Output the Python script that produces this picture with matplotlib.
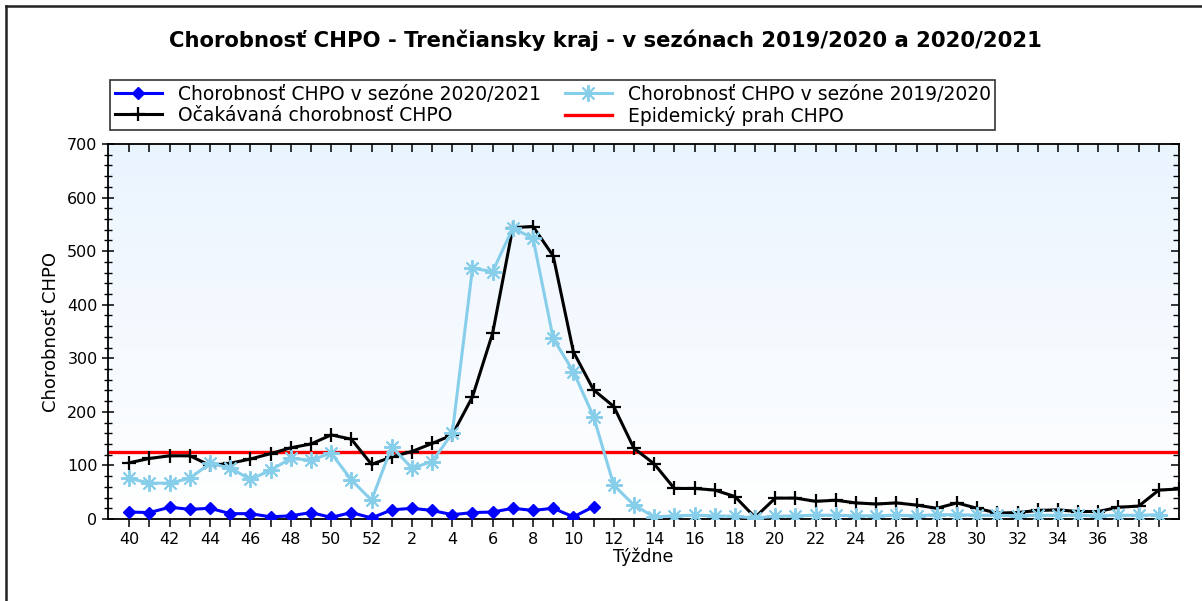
import matplotlib
matplotlib.use("Agg")
import matplotlib.pyplot as plt
import numpy as np
from matplotlib.lines import Line2D
from matplotlib.ticker import MultipleLocator, FixedLocator

# ---- data ----
weeks = [40, 41, 42, 43, 44, 45, 46, 47, 48, 49, 50, 51, 52,
         1, 2, 3, 4, 5, 6, 7, 8, 9, 10, 11, 12, 13, 14, 15, 16, 17, 18, 19,
         20, 21, 22, 23, 24, 25, 26, 27, 28, 29, 30, 31, 32, 33, 34, 35, 36, 37, 38, 39]

season_2020_2021 = [13, 12, 22, 18, 20, 10, 10, 4, 6, 12, 3, 12, 2,
                    17, 20, 16, 8, 12, 13, 20, 16, 20, 4, 23]

season_2019_2020 = [76, 67, 67, 76, 104, 95, 74, 91, 113, 110, 123, 73, 35,
                    135, 95, 107, 160, 468, 462, 543, 524, 337, 275, 191, 63, 26, 4,
                    6, 7, 6, 5, 2, 5, 6, 7, 7, 6, 6, 7, 6, 8, 8, 7, 7, 6, 7, 7, 7, 6, 7, 7, 8]

expected = [105, 113, 118, 118, 100, 104, 112, 122, 133, 140, 157, 149, 102,
            116, 126, 141, 157, 228, 347, 544, 546, 491, 312, 241, 210, 132, 103,
            57, 57, 54, 42, 3, 39, 39, 33, 35, 30, 28, 30, 26, 20, 30, 20, 11, 12,
            16, 17, 14, 14, 22, 24, 54, 56]

threshold = 126

title = "Chorobnosť CHPO - Trenčiansky kraj - v sezónach 2019/2020 a 2020/2021"
lab_2021 = "Chorobnosť CHPO v sezóne 2020/2021"
lab_2020 = "Chorobnosť CHPO v sezóne 2019/2020"
lab_exp = "Očakávaná chorobnosť CHPO"
lab_thr = "Epidemický prah CHPO"
ylabel = "Chorobnosť CHPO"
xlabel = "Týždne"

# ---- figure ----
W, H = 1202, 601
fig = plt.figure(figsize=(W / 100, H / 100), dpi=100)
fig.patch.set_facecolor("white")

left, right, top, bottom = 108, 1179, 144, 519
ax = fig.add_axes([left / W, 1 - bottom / H, (right - left) / W, (bottom - top) / H])

# gradient background
grad = np.linspace(0, 1, 256).reshape(-1, 1)
top_col = np.array([0.918, 0.957, 0.996])
bot_col = np.array([1.0, 1.0, 1.0])
img = bot_col[None, None, :] * (1 - grad[:, :, None]) + top_col[None, None, :] * grad[:, :, None]
ax.imshow(img, extent=[0, 1, 0, 1], transform=ax.transAxes, aspect="auto",
          origin="lower", zorder=0)

x_main = np.arange(len(weeks))
x_2021 = np.arange(len(season_2020_2021))
x_exp = np.arange(len(expected))

ax.axhline(threshold, color="#ff0000", lw=2.4, zorder=2)
ax.plot(x_exp, expected, color="black", lw=2.2, marker="+", ms=10, mew=1.6, zorder=3)
ax.plot(x_main, season_2019_2020, color="#87ceeb", lw=2.2, marker=(8, 2, 0), ms=12,
        mew=1.4, zorder=4)
ax.plot(x_2021, season_2020_2021, color="#0000ff", lw=2.2, marker="D", ms=6.5,
        zorder=5)

ax.set_xlim(-1.055, 52.0)
ax.set_ylim(0, 700)

# ticks
ax.xaxis.set_major_locator(FixedLocator(x_main))
ax.set_xticklabels([str(w) if i % 2 == 0 else "" for i, w in enumerate(weeks)])
ax.yaxis.set_major_locator(MultipleLocator(100))
ax.yaxis.set_minor_locator(MultipleLocator(20))
ax.tick_params(axis="x", which="major", direction="out", length=6, width=1.1,
               labelsize=11.5, pad=3, top=True)
ax.tick_params(axis="y", which="major", direction="inout", length=9, width=1.1,
               labelsize=11.5, pad=3, right=True)
ax.tick_params(axis="y", which="minor", direction="inout", length=6, width=1.0, right=True)
for t in ax.xaxis.get_major_ticks():
    t.tick2line.set_marker(3)
    t.tick2line.set_markersize(6)
for t in ax.yaxis.get_major_ticks() + ax.yaxis.get_minor_ticks():
    t.tick2line.set_marker(0)
for t in ax.yaxis.get_minor_ticks():
    t.tick2line.set_markersize(4)
for t in ax.yaxis.get_major_ticks():
    t.tick2line.set_markersize(6)

for sp in ax.spines.values():
    sp.set_linewidth(1.3)
    sp.set_color("black")

ax.set_xlabel(xlabel, fontsize=12.5, labelpad=1)
ax.set_ylabel(ylabel, fontsize=13, labelpad=5)

# title
fig.text(605 / W, 1 - 40 / H, title, ha="center", va="center",
         fontsize=15.2, fontweight="bold")

# legend
handles = [
    Line2D([], [], color="#0000ff", lw=2.2, marker="D", ms=6.5),
    Line2D([], [], color="black", lw=2.2, marker="+", ms=10, mew=1.6),
    Line2D([], [], color="#87ceeb", lw=2.2, marker=(8, 2, 0), ms=12, mew=1.4),
    Line2D([], [], color="#ff0000", lw=2.4),
]
labels = [lab_2021, lab_exp, lab_2020, lab_thr]
leg = fig.legend(handles, labels, ncol=2, loc="upper left",
                 bbox_to_anchor=(110 / W, 1 - 80 / H),
                 borderaxespad=0, fontsize=13.5, frameon=True,
                 fancybox=False, edgecolor="black", handlelength=2.5,
                 handletextpad=0.85, labelspacing=0.1, borderpad=0.25,
                 columnspacing=1.3)
leg.get_frame().set_linewidth(1.2)

# outer border lines (top and left)
fig.add_artist(Line2D([6 / W, 1], [1 - 6 / H, 1 - 6 / H], transform=fig.transFigure,
                      color="#222222", lw=1.8))
fig.add_artist(Line2D([6 / W, 6 / W], [0, 1 - 6 / H], transform=fig.transFigure,
                      color="#222222", lw=1.8))

fig.savefig("out.png", dpi=100)
